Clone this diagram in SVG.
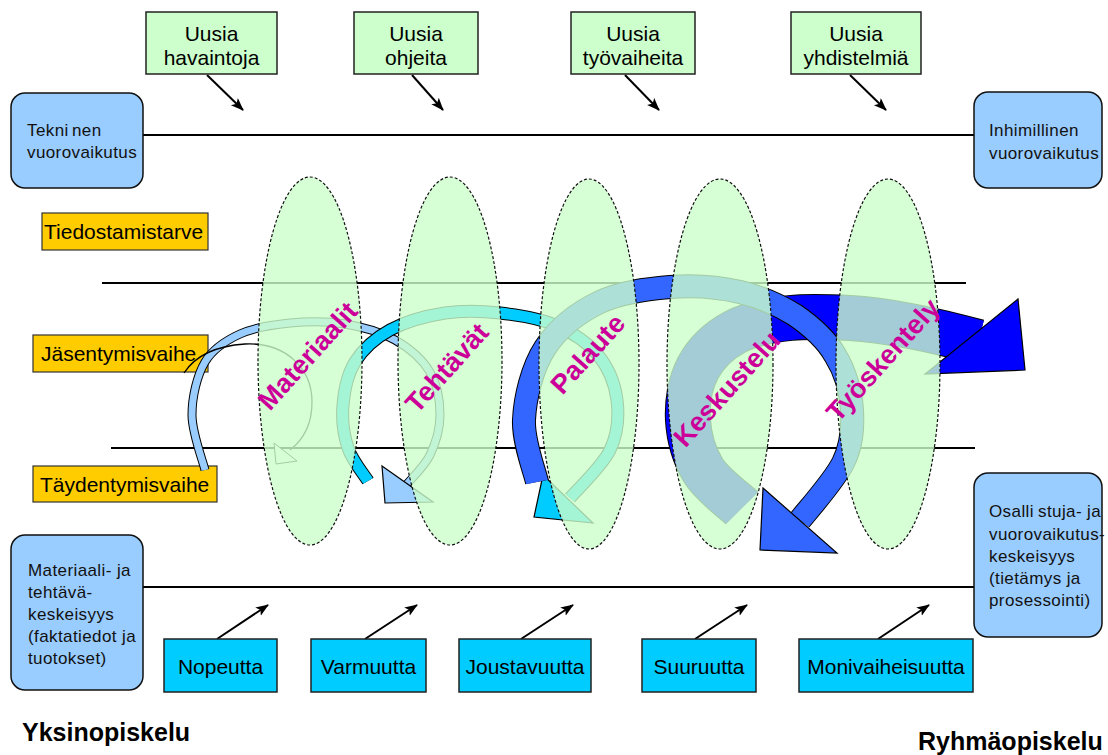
<svg xmlns="http://www.w3.org/2000/svg" width="1108" height="755" viewBox="0 0 1108 755">
<style>
text{font-family:"Liberation Sans",Arial,sans-serif}
.g{fill:#CCFFCC;stroke:#222;stroke-width:1.5}
.c{fill:#00CCFF;stroke:#222;stroke-width:1.5}
.y{fill:#FFCC00;stroke:#333;stroke-width:1.2}
.b{fill:#99CCFF;stroke:#111;stroke-width:1.5}
.t{font-size:21px;fill:#000}
.bt{font-size:17px;fill:#111;letter-spacing:0.4px}
.hl{stroke:#000;stroke-width:2;fill:none}
.ell{fill:#CCFFCC;fill-opacity:0.8;stroke:#111;stroke-width:1.2;stroke-dasharray:3 2}
.mag{font-size:27px;font-weight:bold;fill:#CC0099}
.conn{stroke:#000;stroke-width:2;fill:none;marker-end:url(#ah)}
.ttl{font-size:25px;font-weight:bold;fill:#000}
.ol{fill:none;stroke:#000}
</style>
<defs>
<marker id="ah" markerUnits="userSpaceOnUse" markerWidth="14" markerHeight="12" refX="12" refY="5" orient="auto">
<path d="M0,0 L13,5 L0,10 L3,5 z" fill="#000"/>
</marker>
<path id="pLB" d="M205,470 C202.8,460.8 192,433 192,415 C192,397 197,375.5 205,362 C213,348.5 225.8,340.5 240,334 C254.2,327.5 272.5,324.7 290,323 C307.5,321.3 327.5,321.2 345,324 C362.5,326.8 380.8,332 395,340 C409.2,348 422.5,359.5 430,372 C437.5,384.5 440,401.2 440,415 C440,428.8 435.5,443.5 430,455 C424.5,466.5 410.8,479.2 407,484"/>
<path id="pCY" d="M368,481 C364.7,475.5 352.2,460.7 348,448 C343.8,435.3 341.8,419.3 343,405 C344.2,390.7 347.2,374.5 355,362 C362.8,349.5 375,338.2 390,330 C405,321.8 426.7,315.8 445,313 C463.3,310.2 481.7,311 500,313 C518.3,315 538.7,318 555,325 C571.3,332 587.7,342.5 598,355 C608.3,367.5 615,384.2 617,400 C619,415.8 617.8,433.7 610,450 C602.2,466.3 576.7,490 570,498"/>
<path id="pMB" d="M537,482 C535,472 523,442 524,420 C525,398 532,368 545,348 C558,328 579,312 600,302 C621,292 647,289 670,287 C693,285 719,287 740,292 C761,297 779,305 795,315 C811,326 826,339 835,355 C845,371 851,392 852,410 C853,428 852,445 843,463 C834,481 807,511 800,520"/>
<path id="pPB" d="M742,508 C736,502 712,485 703,470 C694,455 689,437 688,420 C687,403 690,383 698,368 C706,353 720,340 735,332 C750,324 771,320 790,318 C809,316 830,317 850,318 C870,319 889,322 910,326 C931,330 967,339 978,342"/>
</defs>
<rect width="1108" height="755" fill="#fff"/>

<g id="connectors">
<line class="hl" x1="143" y1="135" x2="974" y2="135"/>
<line class="hl" x1="102" y1="283" x2="966" y2="283"/>
<line class="hl" x1="111" y1="448" x2="975" y2="448"/>
<line class="hl" x1="143" y1="587" x2="974" y2="587"/>
<line class="conn" x1="207" y1="75" x2="243" y2="110"/>
<line class="conn" x1="412" y1="75" x2="443" y2="110"/>
<line class="conn" x1="625" y1="75" x2="659" y2="110"/>
<line class="conn" x1="850" y1="75" x2="886" y2="110"/>
<line class="conn" x1="217" y1="639" x2="268" y2="605"/>
<line class="conn" x1="365" y1="639" x2="417" y2="605"/>
<line class="conn" x1="521" y1="639" x2="573" y2="605"/>
<line class="conn" x1="695" y1="639" x2="747" y2="605"/>
<line class="conn" x1="878" y1="639" x2="929" y2="605"/>
</g>

<g id="n-havaintoja"><rect class="g" x="146" y="12" width="131" height="62"/><text class="t" text-anchor="middle"><tspan x="211.5" y="41">Uusia</tspan><tspan x="211.5" y="65">havaintoja</tspan></text></g>
<g id="n-ohjeita"><rect class="g" x="354" y="12" width="124" height="62"/><text class="t" text-anchor="middle"><tspan x="416" y="41">Uusia</tspan><tspan x="416" y="65">ohjeita</tspan></text></g>
<g id="n-tyovaiheita"><rect class="g" x="571" y="12" width="124" height="62"/><text class="t" text-anchor="middle"><tspan x="633" y="41">Uusia</tspan><tspan x="633" y="65">työvaiheita</tspan></text></g>
<g id="n-yhdistelmia"><rect class="g" x="791" y="12" width="130" height="62"/><text class="t" text-anchor="middle"><tspan x="856" y="41">Uusia</tspan><tspan x="856" y="65">yhdistelmiä</tspan></text></g>

<g id="n-tekninen"><rect class="b" x="11" y="93" width="132" height="95" rx="14"/><text class="bt"><tspan x="27" y="136">Tekni</tspan><tspan x="72" y="136">nen</tspan><tspan x="27" y="158">vuorovaikutus</tspan></text></g>
<g id="n-inhimillinen"><rect class="b" x="974" y="92" width="128" height="96" rx="14"/><text class="bt"><tspan x="989" y="136">Inhimillinen</tspan><tspan x="989" y="159">vuorovaikutus</tspan></text></g>
<g id="n-materiaali"><rect class="b" x="11" y="535" width="132" height="155" rx="14"/><text class="bt"><tspan x="28" y="576">Materiaali- ja</tspan><tspan x="28" y="598">tehtävä-</tspan><tspan x="28" y="620">keskeisyys</tspan><tspan x="28" y="642">(faktatiedot ja</tspan><tspan x="28" y="664">tuotokset)</tspan></text></g>
<g id="n-osallistuja"><rect class="b" x="974" y="473" width="128" height="164" rx="14"/><text class="bt"><tspan x="989" y="517">Osalli</tspan><tspan x="1038" y="517">stuja- ja</tspan><tspan x="989" y="540">vuorovaikutus-</tspan><tspan x="989" y="562">keskeisyys</tspan><tspan x="989" y="584">(tietämys ja</tspan><tspan x="989" y="606">prosessointi)</tspan></text></g>

<g id="n-tiedostamistarve"><rect class="y" x="42" y="213" width="166" height="37"/><text class="t" x="44" y="239">Tiedostamistarve</text></g>
<g id="n-jasentymisvaihe"><rect class="y" x="33" y="335" width="175" height="37"/><text class="t" x="41" y="361">Jäsentymisvaihe</text></g>
<g id="n-taydentymisvaihe"><rect class="y" x="33" y="466" width="184" height="36"/><text class="t" x="40" y="492">Täydentymisvaihe</text></g>

<g id="n-nopeutta"><rect class="c" x="164" y="639" width="113" height="53"/><text class="t" x="220.5" y="674" text-anchor="middle">Nopeutta</text></g>
<g id="n-varmuutta"><rect class="c" x="311" y="639" width="115" height="53"/><text class="t" x="368.5" y="674" text-anchor="middle">Varmuutta</text></g>
<g id="n-joustavuutta"><rect class="c" x="459" y="639" width="132" height="53"/><text class="t" x="525" y="674" text-anchor="middle">Joustavuutta</text></g>
<g id="n-suuruutta"><rect class="c" x="642" y="639" width="114" height="53"/><text class="t" x="699" y="674" text-anchor="middle">Suuruutta</text></g>
<g id="n-monivaiheisuutta"><rect class="c" x="799" y="639" width="174" height="53"/><text class="t" x="886" y="674" text-anchor="middle">Monivaiheisuutta</text></g>

<g id="spiral">
<use href="#pPB" class="ol" stroke-width="46"/>
<use href="#pPB" fill="none" stroke="#0000FF" stroke-width="44"/>
<polygon points="1018,299 1025,370 925,374" fill="#0000FF" stroke="#000" stroke-width="1.2"/>
<use href="#pLB" class="ol" stroke-width="9"/>
<use href="#pLB" fill="none" stroke="#99CCFF" stroke-width="7"/>
<polygon points="382,466 433,502 385,503" fill="#99CCFF" stroke="#000" stroke-width="1.2"/>
<use href="#pCY" class="ol" stroke-width="13"/>
<use href="#pCY" fill="none" stroke="#00CCFF" stroke-width="11"/>
<polygon points="543,475 593,523 534,517" fill="#00CCFF" stroke="#000" stroke-width="1.2"/>
<use href="#pMB" class="ol" stroke-width="24"/>
<use href="#pMB" fill="none" stroke="#3366FF" stroke-width="22"/>
<polygon points="763,488 837,553 760,550" fill="#3366FF" stroke="#000" stroke-width="1.2"/>
<path d="M184,373 C195,356 215,346 245,344 C285,342 312,368 312,402 C312,425 303,440 290,450" fill="none" stroke="#000" stroke-width="1.3"/>
<polygon points="274,443 297,461 276,464" fill="#fff" stroke="#000" stroke-width="1"/>
</g>

<g id="n-materiaalit"><ellipse class="ell" cx="310" cy="361" rx="52" ry="184"/><text class="mag" text-anchor="middle" dominant-baseline="central" transform="translate(308,356) rotate(-48)">Materiaalit</text></g>
<g id="n-tehtavat"><ellipse class="ell" cx="450" cy="361" rx="52" ry="184"/><text class="mag" text-anchor="middle" dominant-baseline="central" transform="translate(447,368) rotate(-48)">Tehtävät</text></g>
<g id="n-palaute"><ellipse class="ell" cx="589" cy="364" rx="50" ry="185"/><text class="mag" text-anchor="middle" dominant-baseline="central" transform="translate(588,354) rotate(-48)">Palaute</text></g>
<g id="n-keskustelu"><ellipse class="ell" cx="720" cy="364" rx="53" ry="185"/><text class="mag" text-anchor="middle" dominant-baseline="central" transform="translate(727,389) rotate(-48)">Keskustelu</text></g>
<g id="n-tyoskentely"><ellipse class="ell" cx="888" cy="364" rx="52" ry="185"/><text class="mag" text-anchor="middle" dominant-baseline="central" transform="translate(883,360) rotate(-48)">Työskentely</text></g>

<g id="n-yksinopiskelu"><text class="ttl" x="22" y="741">Yksinopiskelu</text></g>
<g id="n-ryhmaopiskelu"><text class="ttl" x="918" y="750">Ryhmäopiskelu</text></g>
</svg>
